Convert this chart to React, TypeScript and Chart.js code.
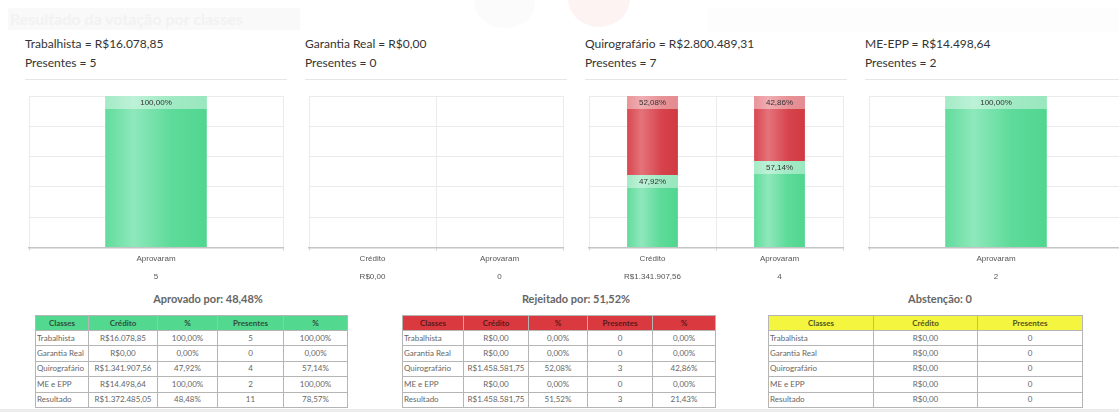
import React, { useEffect, useRef } from "react";
import { Chart, registerables } from "chart.js";
Chart.register(...registerables);

// ---------- DATA ----------
const panelTitles = [
  "Trabalhista = R$16.078,85",
  "Garantia Real = R$0,00",
  "Quirografário = R$2.800.489,31",
  "ME-EPP = R$14.498,64",
];
const panelPresentes = [5, 0, 7, 2];

const trabLabels = [["Aprovaram", "5"]];
const trabApproved = [100];
const trabRejected = [0];

const garLabels = [["Crédito", "R$0,00"], ["Aprovaram", "0"]];
const garApproved = [0, 0];
const garRejected = [0, 0];

const quiroLabels = [["Crédito", "R$1.341.907,56"], ["Aprovaram", "4"]];
const quiroApproved = [47.92, 57.14];
const quiroRejected = [52.08, 42.86];

const meLabels = [["Aprovaram", "2"]];
const meApproved = [100];
const meRejected = [0];

const yTicks = [0, 20, 40, 60, 80, 100];

const tableClasses = ["Trabalhista", "Garantia Real", "Quirografário", "ME e EPP", "Resultado"];

const approvedCredit = ["R$16.078,85", "R$0,00", "R$1.341.907,56", "R$14.498,64", "R$1.372.485,05"];
const approvedCreditPct = ["100,00%", "0,00%", "47,92%", "100,00%", "48,48%"];
const approvedPresentes = ["5", "0", "4", "2", "11"];
const approvedPresentesPct = ["100,00%", "0,00%", "57,14%", "100,00%", "78,57%"];

const rejectedCredit = ["R$0,00", "R$0,00", "R$1.458.581,75", "R$0,00", "R$1.458.581,75"];
const rejectedCreditPct = ["0,00%", "0,00%", "52,08%", "0,00%", "51,52%"];
const rejectedPresentes = ["0", "0", "3", "0", "3"];
const rejectedPresentesPct = ["0,00%", "0,00%", "42,86%", "0,00%", "21,43%"];

const abstCredit = ["R$0,00", "R$0,00", "R$0,00", "R$0,00", "R$0,00"];
const abstPresentes = ["0", "0", "0", "0", "0"];

// ---------- HELPERS ----------
const fmtPct = (v: number) => v.toFixed(2).replace(".", ",") + "%";

const CAT_PCT = 0.8;
const BAR_PCT = 0.5;

function makeGrad(kind: "green" | "red") {
  const solid = kind === "green" ? "#5edb9a" : "#d8434c";
  return (c: any) => {
    const chart = c.chart;
    const xs = chart.scales && chart.scales.x;
    const area = chart.chartArea;
    if (!area || !xs || c.dataIndex === undefined) return solid;
    const n = chart.data.labels.length;
    const cat = (area.right - area.left) / n;
    const w = cat * CAT_PCT * BAR_PCT;
    const cx = xs.getPixelForValue(c.dataIndex);
    const g = chart.ctx.createLinearGradient(cx - w / 2, 0, cx + w / 2, 0);
    if (kind === "green") {
      g.addColorStop(0, "#62dc9c");
      g.addColorStop(0.28, "#8ee8bb");
      g.addColorStop(0.65, "#5edb9a");
      g.addColorStop(1, "#50d68f");
    } else {
      g.addColorStop(0, "#d9474f");
      g.addColorStop(0.28, "#e4737a");
      g.addColorStop(0.68, "#d7434c");
      g.addColorStop(1, "#cf3942");
    }
    return g;
  };
}

const labelPlugin = {
  id: "barTopLabels",
  afterDatasetsDraw(chart: any) {
    const ctx = chart.ctx;
    ctx.save();
    chart.data.datasets.forEach((ds: any, di: number) => {
      const meta = chart.getDatasetMeta(di);
      meta.data.forEach((el: any, i: number) => {
        const v = ds.data[i];
        if (!v) return;
        const p = el.getProps(["x", "y", "width"], true);
        ctx.fillStyle = "rgba(255,255,255,0.42)";
        ctx.fillRect(p.x - p.width / 2, p.y, p.width, 13);
        ctx.fillStyle = "#333";
        ctx.font = '8px "Liberation Sans", Arial, sans-serif';
        ctx.textAlign = "center";
        ctx.textBaseline = "middle";
        ctx.fillText(fmtPct(v), p.x, p.y + 7);
      });
    });
    ctx.restore();
  },
};

function BarPanel(props: { labels: string[][]; approved: number[]; rejected: number[]; index: number }) {
  const ref = useRef<HTMLCanvasElement>(null);
  useEffect(() => {
    if (!ref.current) return;
    const chart = new Chart(ref.current, {
      type: "bar",
      data: {
        labels: props.labels as any,
        datasets: [
          {
            label: "Aprovado",
            data: props.approved,
            backgroundColor: makeGrad("green") as any,
            borderWidth: 0,
            categoryPercentage: CAT_PCT,
            barPercentage: BAR_PCT,
          },
          {
            label: "Rejeitado",
            data: props.rejected,
            backgroundColor: makeGrad("red") as any,
            borderWidth: 0,
            categoryPercentage: CAT_PCT,
            barPercentage: BAR_PCT,
          },
        ],
      },
      options: {
        animation: false,
        responsive: true,
        maintainAspectRatio: false,
        layout: { padding: { left: 5, right: 5, top: 5, bottom: 0 } },
        plugins: { legend: { display: false }, tooltip: { enabled: false } },
        scales: {
          x: {
            stacked: true,
            grid: { color: "#ebebeb", tickLength: 3, tickColor: "#d0d0d0", offset: true },
            border: { color: "#c4c4c4", width: 1.5 },
            ticks: {
              color: "#555",
              padding: 0,
              font: { family: '"Liberation Sans", Arial, sans-serif', size: 8, lineHeight: 2.15 },
            },
          },
          y: {
            stacked: true,
            min: 0,
            max: 100,
            afterBuildTicks: (s: any) => {
              s.ticks = yTicks.map((v) => ({ value: v }));
            },
            ticks: { display: false },
            grid: { color: "#ebebeb", drawTicks: false },
            border: { display: false },
          },
        },
      },
      plugins: [labelPlugin],
    });
    return () => chart.destroy();
  }, []);
  const left = 24 + 280 * props.index;
  return (
    <div style={{ position: "absolute", left, top: 91, width: 264, height: 194 }}>
      <canvas ref={ref} />
    </div>
  );
}

type Col = { w: number; align: "left" | "center" };

function DataTable(props: {
  left: number;
  cols: Col[];
  headers: string[];
  rows: string[][];
  headBg: string;
  headColor: string;
  innerV?: string;
}) {
  const border = "1px solid #b5b5b5";
  const font = 'Lato, "Open Sans", sans-serif';
  return (
    <table
      style={{
        position: "absolute",
        left: props.left,
        top: 315,
        borderCollapse: "collapse",
        tableLayout: "fixed",
        fontFamily: font,
        fontSize: 8,
        width: props.cols.reduce((a, c) => a + c.w, 0),
      }}
    >
      <colgroup>
        {props.cols.map((c, i) => (
          <col key={i} style={{ width: c.w }} />
        ))}
      </colgroup>
      <tbody>
        <tr style={{ height: 15 }}>
          {props.headers.map((h, i) => (
            <td
              key={i}
              style={{
                background: props.headBg,
                color: props.headColor,
                fontWeight: "bold",
                textAlign: "center",
                border,
                borderLeft: i > 0 && props.innerV ? props.innerV : border,
                padding: 0,
                lineHeight: "13px",
              }}
            >
              {h}
            </td>
          ))}
        </tr>
        {props.rows.map((r, ri) => (
          <tr key={ri} style={{ height: 15.4 }}>
            {r.map((cell, ci) => (
              <td
                key={ci}
                style={{
                  color: "#666",
                  textAlign: props.cols[ci].align,
                  border,
                  borderLeft: ci > 0 && props.innerV ? props.innerV : border,
                  padding: ci === 0 ? "0 0 0 1px" : 0,
                  lineHeight: "13px",
                  whiteSpace: "nowrap",
                  overflow: "hidden",
                }}
              >
                {cell}
              </td>
            ))}
          </tr>
        ))}
      </tbody>
    </table>
  );
}

export default function App() {
  const titleFont = 'Lato, "Open Sans", sans-serif';
  const t1Rows = tableClasses.map((c, i) => [c, approvedCredit[i], approvedCreditPct[i], approvedPresentes[i], approvedPresentesPct[i]]);
  const t2Rows = tableClasses.map((c, i) => [c, rejectedCredit[i], rejectedCreditPct[i], rejectedPresentes[i], rejectedPresentesPct[i]]);
  const t3Rows = tableClasses.map((c, i) => [c, abstCredit[i], abstPresentes[i]]);
  const fiveHead = ["Classes", "Crédito", "%", "Presentes", "%"];
  const sumTitle = (text: string, cx: number) => (
    <div
      style={{
        position: "absolute",
        left: cx - 100,
        width: 200,
        top: 291,
        textAlign: "center",
        fontFamily: titleFont,
        fontWeight: "bold",
        fontSize: 11,
        color: "#666",
        lineHeight: "16px",
      }}
    >
      {text}
    </div>
  );
  return (
    <div
      style={{
        position: "absolute",
        left: 0,
        top: 0,
        width: 1119,
        height: 412,
        overflow: "hidden",
        background: "#fff",
      }}
    >
      {/* faded background header */}
      <div style={{ position: "absolute", left: 8, top: 8, width: 292, height: 22, background: "#f9f9f9" }} />
      <div
        style={{
          position: "absolute",
          left: 10,
          top: 8,
          fontFamily: titleFont,
          fontSize: 16,
          color: "#f2f2f2",
          fontWeight: "bold",
          lineHeight: "22px",
          whiteSpace: "nowrap",
        }}
      >
        Resultado da votação por classes
      </div>
      <div style={{ position: "absolute", left: 475, top: -20, width: 60, height: 48, borderRadius: "50%", background: "#fbfbfb" }} />
      <div style={{ position: "absolute", left: 568, top: -30, width: 62, height: 57, borderRadius: "50%", background: "#fdf3f3" }} />
      <div style={{ position: "absolute", left: 707, top: 8, width: 420, height: 24, background: "#fdfdfd" }} />

      {panelTitles.map((t, i) => (
        <React.Fragment key={i}>
          <div
            style={{
              position: "absolute",
              left: 25 + 280 * i,
              top: 36,
              fontFamily: titleFont,
              fontSize: 12,
              color: "#333",
              lineHeight: "16px",
              whiteSpace: "nowrap",
            }}
          >
            {t}
          </div>
          <div
            style={{
              position: "absolute",
              left: 25 + 280 * i,
              top: 55,
              fontFamily: titleFont,
              fontSize: 12,
              color: "#333",
              lineHeight: "16px",
              whiteSpace: "nowrap",
            }}
          >
            Presentes = {panelPresentes[i]}
          </div>
          <div
            style={{ position: "absolute", left: 25 + 280 * i, top: 79, width: 262, height: 1, background: "#e6e6e6" }}
          />
        </React.Fragment>
      ))}

      <BarPanel index={0} labels={trabLabels} approved={trabApproved} rejected={trabRejected} />
      <BarPanel index={1} labels={garLabels} approved={garApproved} rejected={garRejected} />
      <BarPanel index={2} labels={quiroLabels} approved={quiroApproved} rejected={quiroRejected} />
      <BarPanel index={3} labels={meLabels} approved={meApproved} rejected={meRejected} />

      {sumTitle("Aprovado por: 48,48%", 208)}
      {sumTitle("Rejeitado por: 51,52%", 576)}
      {sumTitle("Abstenção: 0", 940)}

      <DataTable
        left={35}
        cols={[
          { w: 53, align: "left" },
          { w: 69, align: "center" },
          { w: 60, align: "center" },
          { w: 66, align: "center" },
          { w: 64, align: "center" },
        ]}
        headers={fiveHead}
        rows={t1Rows}
        headBg="#52d98f"
        headColor="#2f4f3c"
      />
      <DataTable
        left={402}
        cols={[
          { w: 61, align: "left" },
          { w: 65, align: "center" },
          { w: 59, align: "center" },
          { w: 65, align: "center" },
          { w: 63, align: "center" },
        ]}
        headers={fiveHead}
        rows={t2Rows}
        headBg="#d9393f"
        headColor="#5a1a1c"
      />
      <DataTable
        left={768}
        cols={[
          { w: 105, align: "left" },
          { w: 104, align: "center" },
          { w: 105, align: "center" },
        ]}
        headers={["Classes", "Crédito", "Presentes"]}
        rows={t3Rows}
        headBg="#f3f53e"
        headColor="#55551e"
        innerV="1px solid #555"
      />

      <div style={{ position: "absolute", left: 0, top: 409, width: 1119, height: 3, background: "#ececec" }} />
    </div>
  );
}
